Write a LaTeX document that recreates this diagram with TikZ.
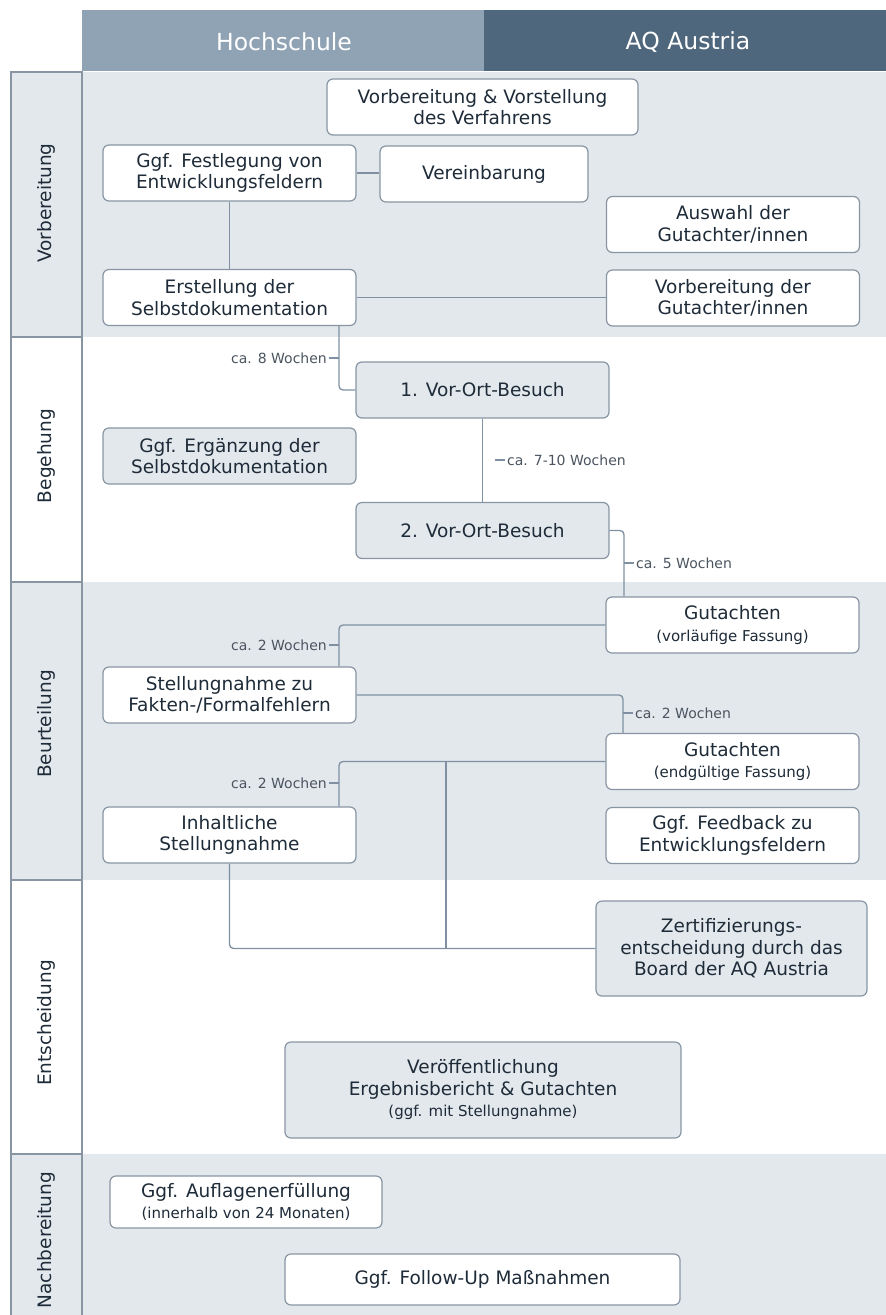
\documentclass[tikz,border=0pt]{standalone}
\usepackage{fontspec}
\setmainfont{DejaVu Sans}
\usepackage{tikz}
\usetikzlibrary{positioning}

\definecolor{kopfhell}{HTML}{8FA3B4}
\definecolor{kopfdunkel}{HTML}{4F677C}
\definecolor{bahn}{HTML}{E3E8ED}
\definecolor{rahmen}{HTML}{8896A4}
\definecolor{linie}{HTML}{7E90A1}
\definecolor{schrift}{HTML}{1E2B38}

\newcommand{\kleintext}[1]{{\fontsize{15}{18}\selectfont #1}}

\begin{document}
\begin{tikzpicture}[x=1pt,y=-1pt,
        box/.style={draw=rahmen, line width=1.2pt, rounded corners=6pt, fill=white,
            align=center, text=schrift, font=\fontsize{18.5}{21.5}\selectfont,
            minimum width=253pt, minimum height=56pt, inner sep=1pt},
        greybox/.style={box, fill=bahn},
        kopf/.style={text=white, font=\fontsize{23.5}{27}\selectfont},
        dauer/.style={text=schrift!80, font=\fontsize{14}{16}\selectfont, inner sep=2pt},
        lanelabel/.style={rotate=90, text=schrift, font=\fontsize{18.5}{22}\selectfont},
        verb/.style={draw=linie, line width=1.3pt, rounded corners=4pt}]

        % Bounding box (pixels of the reference)
        \useasboundingbox (0,0) rectangle (886,1315);

        % Swimlanes (light ones only, the others stay white)
        \fill[bahn] (11,72) rectangle (886,337);
        \fill[bahn] (11,582) rectangle (886,880);
        \fill[bahn] (11,1154) rectangle (886,1315);

        % Header
        \fill[kopfhell] (82,10) rectangle (484,71);
        \fill[kopfdunkel] (484,10) rectangle (886,71);
        \node[kopf] (hs) at (284,42) {Hochschule};
        \node[kopf] (aq) at (688,42) {AQ Austria};

        % Lane column
        \draw[rahmen, line width=1.2pt] (11,1315) -- (11,72) -- (82,72);
        \draw[rahmen, line width=1.2pt] (82,71) -- (82,1315);
        \foreach \y in {337,582,880,1154}
        {
            \draw[rahmen, line width=1.2pt] (11,\y) -- (82,\y);
        }
        \node[lanelabel] (l1) at (46,203) {Vorbereitung};
        \node[lanelabel] (l2) at (46,456) {Begehung};
        \node[lanelabel] (l3) at (46,724) {Beurteilung};
        \node[lanelabel] (l4) at (46,1023) {Entscheidung};
        \node[lanelabel] (l5) at (46,1240) {Nachbereitung};

        % Vorbereitung
        \node[box, minimum width=311pt] (vorst) at (482.5,107) {Vorbereitung \& Vorstellung\\des Verfahrens};
        \node[box] (festl) at (229.5,173) {Ggf. Festlegung von\\Entwicklungsfeldern};
        \node[box, minimum width=208pt] (verein) at (484,174) {Vereinbarung};
        \node[box] (auswahl) at (733,224.5) {Auswahl der\\Gutachter/innen};
        \node[box] (erst) at (229.5,297.5) {Erstellung der\\Selbstdokumentation};
        \node[box] (vorbgut) at (733,298) {Vorbereitung der\\Gutachter/innen};

        % Begehung
        \node[greybox] (besuch1) at (482.5,390) {1. Vor-Ort-Besuch};
        \node[greybox] (ergaenz) at (229.5,456) {Ggf. Ergänzung der\\Selbstdokumentation};
        \node[greybox] (besuch2) at (482.5,530.5) {2. Vor-Ort-Besuch};

        % Beurteilung
        \node[box] (gutv) at (732.5,625) {Gutachten\\\kleintext{(vorläufige Fassung)}};
        \node[box] (stell) at (229.5,695) {Stellungnahme zu\\Fakten-/Formalfehlern};
        \node[box] (gute) at (732.5,761.5) {Gutachten\\\kleintext{(endgültige Fassung)}};
        \node[box] (inhalt) at (229.5,835) {Inhaltliche\\Stellungnahme};
        \node[box] (feedb) at (732.5,835.5) {Ggf. Feedback zu\\Entwicklungsfeldern};

        % Entscheidung
        \node[greybox, minimum width=271pt, minimum height=95pt] (zert) at (731.5,948.5)
            {Zertifizierungs-\\entscheidung durch das\\Board der AQ Austria};
        \node[greybox, minimum width=396pt, minimum height=96pt] (veroeff) at (483,1090)
            {Veröffentlichung\\Ergebnisbericht \& Gutachten\\\kleintext{(ggf. mit Stellungnahme)}};

        % Nachbereitung
        \node[box, minimum width=272pt, minimum height=52pt] (aufl) at (246,1202)
            {Ggf. Auflagenerfüllung\\\kleintext{(innerhalb von 24 Monaten)}};
        \node[box, minimum width=395pt, minimum height=51pt] (follow) at (482.5,1279.5)
            {Ggf. Follow-Up Maßnahmen};

        % Connectors
        \draw[verb] (festl.east) -- (verein.west |- festl.east);
        \draw[verb] (festl.south) -- (erst.north);
        \draw[verb] (erst.east) -- (vorbgut.west |- erst.east);
        \draw[verb] ([xshift=109.5pt]erst.south) |- (besuch1.west);
        \draw[verb] (besuch1.south) -- (besuch2.north);
        \draw[verb] (besuch2.east) -| ([xshift=-108.5pt]gutv.north);
        \draw[verb] (gutv.west) -| ([xshift=109.5pt]stell.north);
        \draw[verb] (stell.east) -| ([xshift=-109.5pt]gute.north);
        \draw[verb] (gute.west) -| ([xshift=109.5pt]inhalt.north);
        \coordinate (abzw) at (446,761.5);
        \draw[verb] (abzw) -- (abzw |- zert.west);
        \draw[verb] (inhalt.south) |- (zert.west);

        % Durations
        \node[dauer, anchor=east] (d1) at (329,358) {ca. 8 Wochen};
        \draw[verb] (d1.east) -- ++(10,0);
        \node[dauer, anchor=west] (d2) at (505,460) {ca. 7-10 Wochen};
        \draw[verb] (d2.west) -- ++(-10,0);
        \node[dauer, anchor=west] (d3) at (634,563) {ca. 5 Wochen};
        \draw[verb] (d3.west) -- ++(-10,0);
        \node[dauer, anchor=east] (d4) at (329,645) {ca. 2 Wochen};
        \draw[verb] (d4.east) -- ++(10,0);
        \node[dauer, anchor=west] (d5) at (633,713) {ca. 2 Wochen};
        \draw[verb] (d5.west) -- ++(-10,0);
        \node[dauer, anchor=east] (d6) at (329,783) {ca. 2 Wochen};
        \draw[verb] (d6.east) -- ++(10,0);

\end{tikzpicture}
\end{document}
